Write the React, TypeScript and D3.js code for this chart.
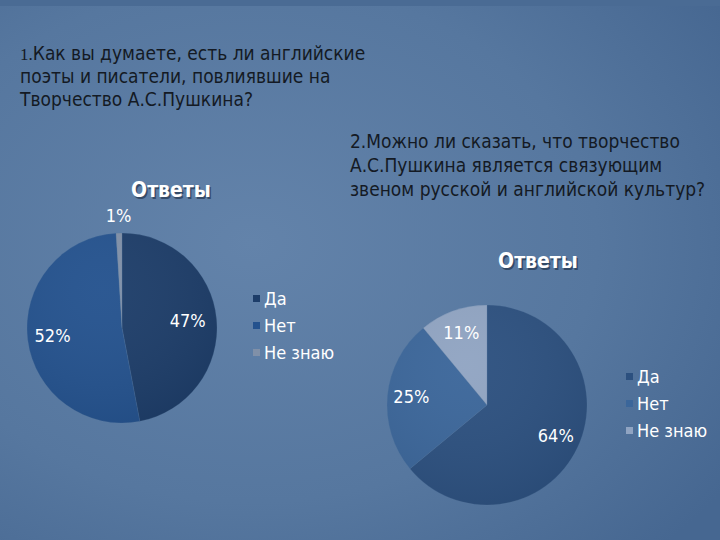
import React from "react";
import * as d3 from "d3";

const categories = ["Да", "Нет", "Не знаю"];
const values1 = [47, 52, 1];
const values2 = [64, 25, 11];
const colors1 = ["#1d3d69", "#24528e", "#8090a8"];
const colors2 = ["#2c507f", "#3b669a", "#90a4c2"];
const question1 = [
  "Как вы думаете, есть ли английские",
  "поэты и писатели, повлиявшие на",
  "Творчество А.С.Пушкина?",
];
const question2 = [
  "2.Можно ли сказать, что творчество",
  "А.С.Пушкина является связующим",
  "звеном русской и английской культур?",
];
const chartTitle = "Ответы";

const W = 720;
const H = 540;
const font = "'DejaVu Sans Condensed', 'DejaVu Sans', sans-serif";

type PieProps = {
  values: number[];
  colors: string[];
  cx: number;
  cy: number;
  r: number;
  labelR: (i: number) => number;
  titleX: number;
  titleY: number;
  legendX: number;
  legendY: number;
  legendStep: number;
  gid: string;
};

function Pie(p: PieProps) {
  const pie = d3
    .pie<number>()
    .sort(null)
    .value((d) => d)
    .startAngle(0)
    .endAngle(2 * Math.PI);
  const arcs = pie(p.values);
  const arc = d3.arc<d3.PieArcDatum<number>>().innerRadius(0).outerRadius(p.r);
  return (
    <g>
      <defs>
        <radialGradient id={p.gid} cx="0.4" cy="0.3" r="0.8">
          <stop offset="0" stopColor="#ffffff" stopOpacity={0.04} />
          <stop offset="1" stopColor="#000000" stopOpacity={0.08} />
        </radialGradient>
      </defs>
      <text
        x={p.titleX}
        y={p.titleY}
        textAnchor="middle"
        fontFamily={font}
        fontWeight="bold"
        fontSize={21}
        fill="#1a2a40"
        opacity={0.6}
        transform="translate(1.5,1.5)"
      >
        {chartTitle}
      </text>
      <text
        x={p.titleX}
        y={p.titleY}
        textAnchor="middle"
        fontFamily={font}
        fontWeight="bold"
        fontSize={21}
        fill="#ffffff"
      >
        {chartTitle}
      </text>
      <g transform={`translate(${p.cx},${p.cy})`}>
        {arcs.map((a, i) => (
          <path key={i} d={arc(a) || ""} fill={p.colors[i]} stroke="#5a7aa3" strokeOpacity={0.4} strokeWidth={0.6} />
        ))}
        <circle r={p.r} fill={`url(#${p.gid})`} />
        {arcs.map((a, i) => {
          const lr = p.labelR(i);
          const m = (a.startAngle + a.endAngle) / 2;
          const x = Math.sin(m) * lr;
          const y = -Math.cos(m) * lr;
          return (
            <text
              key={i}
              x={x}
              y={y}
              textAnchor="middle"
              dominantBaseline="middle"
              fontFamily={font}
              fontSize={18}
              fill="#ffffff"
            >
              {a.data}%
            </text>
          );
        })}
      </g>
      {categories.map((c, i) => (
        <g key={c}>
          <rect
            x={p.legendX}
            y={p.legendY + i * p.legendStep - 5}
            width={7}
            height={7}
            fill={p.colors[i]}
          />
          <text
            x={p.legendX + 11}
            y={p.legendY + i * p.legendStep}
            dominantBaseline="middle"
            fontFamily={font}
            fontSize={18}
            fill="#ffffff"
          >
            {c}
          </text>
        </g>
      ))}
    </g>
  );
}

export default function App() {
  return (
    <svg
      width={W}
      height={H}
      style={{ position: "absolute", left: 0, top: 0 }}
      xmlns="http://www.w3.org/2000/svg"
    >
      <defs>
        <radialGradient id="bg" cx="0.35" cy="0.45" r="0.8">
          <stop offset="0" stopColor="#6383aa" />
          <stop offset="0.6" stopColor="#56779f" />
          <stop offset="1" stopColor="#466791" />
        </radialGradient>
      </defs>
      <rect width={W} height={H} fill="url(#bg)" />
      <rect width={W} height={6} fill="#4a6b94" />

      <text fontFamily={font} fontSize={19} fill="#141a24">
        {question1.map((l, i) => (
          <tspan key={i} x={20} y={60 + i * 23}>
            {i === 0 ? (
              <>
                <tspan fontFamily="'Liberation Serif', serif" fontSize={17}>1.</tspan>
                {l}
              </>
            ) : (
              l
            )}
          </tspan>
        ))}
      </text>
      <text fontFamily={font} fontSize={19} fill="#141a24">
        {question2.map((l, i) => (
          <tspan key={i} x={350} y={148 + i * 24}>
            {l}
          </tspan>
        ))}
      </text>

      <Pie
        values={values1}
        colors={colors1}
        cx={122}
        cy={328}
        r={95}
        labelR={(i) => (i === 2 ? 111 : i === 0 ? 66 : 70)}
        titleX={171}
        titleY={197}
        legendX={253}
        legendY={300}
        legendStep={27}
        gid="p1"
      />
      <Pie
        values={values2}
        colors={colors2}
        cx={487}
        cy={405}
        r={100}
        labelR={() => 76}
        titleX={538}
        titleY={268}
        legendX={626}
        legendY={378}
        legendStep={27}
        gid="p2"
      />
    </svg>
  );
}
